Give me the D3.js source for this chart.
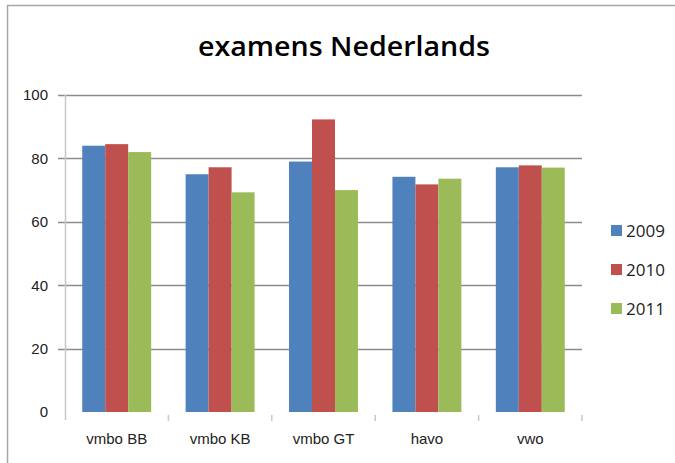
<!DOCTYPE html>
<html>
<head>
<meta charset="utf-8">
<script src="https://cdn.jsdelivr.net/npm/d3@7"></script>
<style>
  body { margin: 0; background: #fff; }
  svg { display: block; font-family: "Open Sans", sans-serif; }
</style>
</head>
<body>
<svg width="675" height="463"></svg>
<script>
// data
const categories = ["vmbo BB", "vmbo KB", "vmbo GT", "havo", "vwo"]
const years = ["2009", "2010", "2011"]
const values2009 = [84, 75, 79, 74.2, 77.2]
const values2010 = [84.5, 77.2, 92.3, 71.8, 77.8]
const values2011 = [82, 69.3, 70, 73.6, 77.1]
const yTicks = [0, 20, 40, 60, 80, 100]
const colors = ["#4F81BD", "#C0504D", "#9BBB59"]

const series = [values2009, values2010, values2011]

const svg = d3.select("svg")

// outer frame
svg.append("path")
  .attr("d", "M7.5,463 V5.5 H675")
  .attr("fill", "none")
  .attr("stroke", "#a6a6a6")
  .attr("stroke-width", 1.5)

// title
svg.append("text")
  .attr("x", 344)
  .attr("y", 56)
  .attr("text-anchor", "middle")
  .attr("font-size", 27)
  .attr("font-weight", 600)
  .attr("textLength", 292)
  .attr("lengthAdjust", "spacingAndGlyphs")
  .attr("fill", "#000")
  .text("examens Nederlands")

const plotLeft = 65, plotRight = 582, plotTop = 95, plotBottom = 412

const x0 = d3.scaleBand()
  .domain(categories)
  .range([plotLeft, plotRight])
  .paddingInner(1 / 3)
  .paddingOuter(1 / 6)

const x1 = d3.scaleBand()
  .domain(years)
  .range([0, x0.bandwidth()])

const y = d3.scaleLinear().domain([0, 100]).range([plotBottom, plotTop])

// y axis labels
const yAxis = svg.append("g")
  .attr("transform", "translate(" + plotLeft + ",0)")
  .call(d3.axisLeft(y).tickValues(yTicks).tickSize(7).tickSizeOuter(0))
yAxis.select(".domain").remove()
yAxis.selectAll(".tick line").remove()
yAxis.selectAll(".tick text")
  .attr("x", -17)
  .attr("font-size", 15)
  .attr("fill", "#222")

// gridlines
svg.append("g")
  .selectAll("line")
  .data(yTicks.filter(d => d > 0))
  .join("line")
  .attr("x1", plotLeft - 7)
  .attr("x2", plotRight)
  .attr("y1", d => Math.round(y(d)) + 0.5)
  .attr("y2", d => Math.round(y(d)) + 0.5)
  .attr("stroke", "#8c8c8c")
  .attr("stroke-width", 1.5)

// vertical axis line
svg.append("line")
  .attr("x1", plotLeft + 0.5).attr("x2", plotLeft + 0.5)
  .attr("y1", plotTop).attr("y2", plotBottom + 8)
  .attr("stroke", "#c8c8c8")
  .attr("stroke-width", 1.5)

// bars
const groups = svg.append("g")
  .selectAll("g")
  .data(categories)
  .join("g")
  .attr("transform", d => "translate(" + x0(d) + ",0)")

groups.selectAll("rect")
  .data((d, i) => years.map((yr, s) => ({ yr, s, v: series[s][i] })))
  .join("rect")
  .attr("x", d => x1(d.yr))
  .attr("y", d => y(d.v))
  .attr("width", x1.bandwidth())
  .attr("height", d => plotBottom - y(d.v))
  .attr("fill", d => colors[d.s])

// x axis
const xAxis = svg.append("g")
  .attr("transform", "translate(0," + plotBottom + ")")
  .call(d3.axisBottom(x0).tickSize(0))
xAxis.select(".domain").remove()
xAxis.selectAll(".tick text")
  .attr("y", 32)
  .attr("dy", 0)
  .attr("font-size", 15)
  .attr("fill", "#222")

// category separators
const step = x0.step()
svg.append("g")
  .selectAll("line")
  .data(d3.range(1, categories.length + 1))
  .join("line")
  .attr("x1", i => plotLeft + i * step)
  .attr("x2", i => plotLeft + i * step)
  .attr("y1", plotBottom + 3)
  .attr("y2", plotBottom + 9)
  .attr("stroke", "#c8c8c8")
  .attr("stroke-width", 1.5)

// legend
const legend = svg.append("g")
  .selectAll("g")
  .data(years)
  .join("g")
  .attr("transform", (d, i) => "translate(611," + (225 + i * 39) + ")")
legend.append("rect")
  .attr("width", 11)
  .attr("height", 11)
  .attr("fill", (d, i) => colors[i])
legend.append("text")
  .attr("x", 15)
  .attr("y", 11.5)
  .attr("font-size", 17)
  .attr("fill", "#222")
  .text(d => d)
</script>
</body>
</html>
